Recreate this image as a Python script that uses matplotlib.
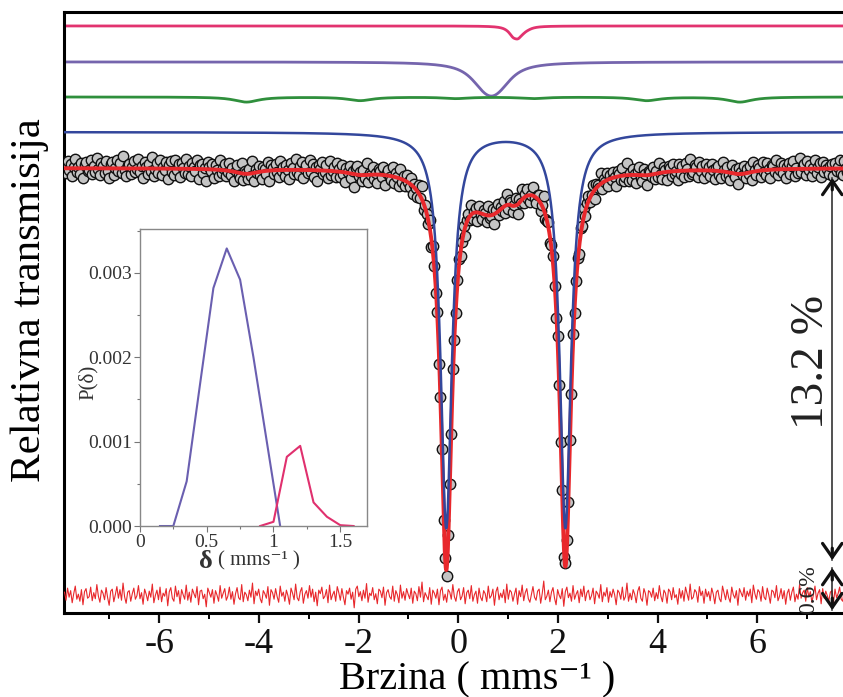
import numpy as np
import matplotlib
matplotlib.use('Agg')
import matplotlib.pyplot as plt
from matplotlib.ticker import MultipleLocator, FuncFormatter

# ------------------------------------------------------------------ data
# velocity channel grid of the spectrometer
v_min, v_max, n_channels = -7.9, 7.9, 512

baseline = 1.0

# quadrupole doublet (blue): line positions, depths, half width
blue_pos = [-0.24, 2.15]
blue_depth = [0.133, 0.133]
blue_hwhm = 0.135

# magnetic sextet (green): line positions, depths, half width
green_pos = [-4.25, -1.97, -0.05, 1.50, 3.78, 5.65]
green_depth = [0.0017, 0.0012, 0.0005, 0.0005, 0.0012, 0.0017]
green_hwhm = 0.30

# isomer-shift distributions (inset)
purple_delta = [0.15, 0.25, 0.35, 0.45, 0.55, 0.65, 0.75, 0.85, 0.95, 1.05]
purple_p = [0.0, 0.0, 0.00053, 0.00168, 0.00282, 0.00329, 0.00292, 0.00200, 0.00100, 0.0]
pink_delta = [0.90, 1.00, 1.10, 1.20, 1.30, 1.40, 1.50, 1.60]
pink_p = [0.0, 0.00005, 0.00082, 0.00095, 0.00028, 0.00011, 0.00001, 0.0]
purple_depth, purple_hwhm = 0.0115, 0.30
pink_depth, pink_hwhm = 0.0044, 0.10

# residual (data - fit) per channel, in units of 0.017 % transmission
residual_units = [
    6, -10, 14, -4, 9, -15, 3, 18, -8, 2, -12, 11, -19, 7, 13, -6,
    -3, 16, -11, 5, -7, 21, -2, -14, 10, 4, -9, 15, -5, -20, 8, 12,
    -13, 1, 17, -6, 11, -10, 24, -3, -16, 6, 9, -12, 3, 14, -8, -1,
    19, -7, 5, -18, 12, 2, -11, 8, -4, 22, -15, 0, 10, -9, 16, -13,
    4, -2, 13, -21, 7, 15, -6, -12, 18, -3, 9, -17, 11, 1, -8, 20,
    -10, 6, -14, 12, 3, -5, 17, -19, 8, 10, -7, 2, -23, 14, 5, -4,
    11, -16, 9, 0, -12, 19, -6, 4, 13, -10, -2, 16, -8, 7, -18, 3,
    15, -5, -9, 21, -13, 6, 1, -11, 10, -4, 24, -17, 8, -1, 12, -7,
    -15, 9, 3, -6, 17, -20, 11, 5, -8, 13, -3, -14, 18, -2, 6, -12,
    10, -1, -18, 14, 4, -9, 22, -5, -11, 7, 15, -16, 2, 9, -6, 19,
    -4, 12, -13, 6, -21, 10, 3, 16, -7, -2, 11, -15, 20, -9, 1, 8,
    -12, 17, 5, -10, 13, -4, -19, 9, 2, 14, -8, 6, -25, 12, 18, -3,
    7, -11, 10, -6, 23, -14, 4, -1, 15, -9, 3, -17, 12, 8, -5, 16,
    -20, 5, 11, -3, -8, 18, -12, 9, 1, -15, 20, -6, 7, -10, 13, 2,
    -7, 14, -16, 8, 3, -11, 17, -4, 26, -13, 5, -2, -9, 15, -18, 10,
    4, -6, 12, -19, 9, 16, -10, 2, -14, 11, 6, -8, 21, -3, -12, 7,
    13, -9, -2, 15, -17, 5, 10, -7, 19, -12, 1, 8, -16, 14, -4, -11,
    9, 3, -13, 18, -6, -1, 12, -20, 7, 16, -9, 4, -5, 11, -15, 22,
    -8, 10, 6, -12, 2, 14, -18, 9, -3, 20, -11, 5, 13, -7, -14, 1,
    17, -4, -10, 8, 12, -16, 3, 28, -9, -2, 10, -13, 6, 15, -6, -19,
    11, 0, -7, 13, -22, 7, 16, -5, 4, -12, 19, -8, 2, 9, -15, 12,
    -3, 18, -11, 5, 10, -9, -1, 14, -17, 8, 3, -6, 21, -13, 6, -2,
    15, -14, 7, -4, 12, 1, -19, 10, 5, -8, 16, -10, -3, 24, -12, 4,
    -9, 11, 2, -15, 8, 17, -6, -12, 13, 3, -20, 9, 6, -4, 14, -11,
    5, -7, 19, -2, -13, 10, 4, -16, 12, 7, -9, 15, -5, 1, -18, 13,
    -6, 9, -12, 16, 3, -10, 22, -8, -4, 11, 6, -14, 17, -1, 8, -16,
    12, -3, 7, -11, 14, 2, -17, 6, 10, -7, -13, 18, 4, -9, 11, -5,
    -14, 16, 1, -6, 9, -20, 13, 5, -3, 15, -10, 8, -2, 12, -15, 20,
    3, -8, 11, 6, -12, 17, -4, -9, 14, 1, -16, 10, 7, -5, 19, -11,
    -2, 13, -7, 9, -18, 4, 12, -10, 6, 16, -13, 2, -8, 21, -6, 5,
    10, -12, 15, -3, 7, -14, 1, 18, -9, 4, 11, -17, 13, -6, 8, -1,
    -11, 6, 9, -15, 12, -5, 3, 16, -8, -12, 14, 2, -7, 10, -13, 5,
]
residual_unit = 0.00017

x_ticks = [-6, -4, -2, 0, 2, 4, 6]
inset_xticks = [0, 0.5, 1.0, 1.5]
inset_yticks = [0, 0.001, 0.002, 0.003]
label_13 = "13.2 %"
label_06 = "0.6%"

# vertical offsets of the displayed sub-spectra
off_pink, off_purple, off_green, off_blue = 1.0478, 1.0357, 1.0239, 1.0121
off_res = 0.8562

# ------------------------------------------------------------------ model
def lor(v, c, g):
    return g ** 2 / ((v - c) ** 2 + g ** 2)

def comp_lines(v, pos, depth, g):
    return sum(d * lor(v, c, g) for c, d in zip(pos, depth))

vf = np.linspace(v_min, v_max, 3000)
vc = np.linspace(v_min, v_max, n_channels)

def comp_dist(v, deltas, ps, g, depth):
    s = sum(p * lor(v, d, g) for d, p in zip(deltas, ps))
    sref = sum(p * lor(vf, d, g) for d, p in zip(deltas, ps))
    return depth * s / sref.max()

def parts(v):
    b = comp_lines(v, blue_pos, blue_depth, blue_hwhm)
    gr = comp_lines(v, green_pos, green_depth, green_hwhm)
    pu = comp_dist(v, purple_delta, purple_p, purple_hwhm, purple_depth)
    pk = comp_dist(v, pink_delta, pink_p, pink_hwhm, pink_depth)
    return b, gr, pu, pk

b_f, g_f, pu_f, pk_f = parts(vf)
fit_f = baseline - (b_f + g_f + pu_f + pk_f)
b_c, g_c, pu_c, pk_c = parts(vc)
fit_c = baseline - (b_c + g_c + pu_c + pk_c)
res = np.array(residual_units) * residual_unit
data = fit_c + res

# ------------------------------------------------------------------ style
SERIF = ['Liberation Serif', 'DejaVu Serif']
plt.rcParams['font.family'] = SERIF
plt.rcParams['axes.unicode_minus'] = False

c_pink = '#e2336f'
c_purple = '#7565ad'
c_green = '#2f8f3c'
c_blue = '#33479c'
c_red = '#e8282c'

fig = plt.figure(figsize=(8.43, 6.97), dpi=100)
ax = fig.add_axes([0.0759, 0.1205, 0.93, 0.8623])

ax.plot(vf, off_pink - pk_f, color=c_pink, lw=2.0)
ax.plot(vf, off_purple - pu_f, color=c_purple, lw=2.0)
ax.plot(vf, off_green - g_f, color=c_green, lw=2.0)

ax.plot(vc, data, 'o', ms=7.5, mfc='#c4c4c4', mec='#111111', mew=1.0, zorder=3)
ax.plot(vf, fit_f, color=c_red, lw=2.8, zorder=4)
ax.plot(vf, off_blue - b_f, color=c_blue, lw=1.8, zorder=5)

ax.plot(vc, off_res + res, color=c_red, lw=0.8, zorder=3)

ax.set_xlim(-7.91, 7.82)
ax.set_ylim(0.8502, 1.0525)

ax.set_xticks(x_ticks)
ax.xaxis.set_minor_locator(MultipleLocator(1))
ax.set_yticks([])
ax.tick_params(axis='x', which='major', direction='out', length=7, width=1.6,
               labelsize=26, pad=4, colors='#111111')
ax.tick_params(axis='x', which='minor', direction='out', length=4, width=1.4)
for s in ['left', 'top', 'bottom']:
    ax.spines[s].set_linewidth(2.2)
ax.spines['right'].set_visible(False)

fig.text(0.0356, 0.5696, 'Relativna transmisija', rotation=90, ha='center', va='center',
         fontsize=31)
fig.text(0.566, 0.0115, 'Brzina ( mms\u207b\u00b9 )', ha='center', va='baseline',
         fontsize=29, family=SERIF)

# percentage arrows
xa = 7.505
y13_top, y13_bot = 0.99663, 0.86801
y06_top, y06_bot = 0.86532, 0.85118
ax.plot([xa, xa], [y13_top, y13_bot], color='#222222', lw=1.1, zorder=6)
ax.plot([xa, xa], [y06_top, y06_bot], color='#222222', lw=1.1, zorder=6)
head = dict(arrowstyle='->,head_length=0.5,head_width=0.35', lw=2.3, color='#111111',
            mutation_scale=20, shrinkA=0, shrinkB=0)
for ytip, ydir in [(y13_top, -1), (y13_bot, 1), (y06_top, -1), (y06_bot, 1)]:
    ax.annotate('', xy=(xa, ytip), xytext=(xa, ytip + ydir * 0.004), arrowprops=head, zorder=7)
ax.text(7.10, 0.9347, label_13, rotation=90, ha='center', va='center', fontsize=34, color='#222222')
ax.text(7.04, 0.8582, label_06, rotation=90, ha='center', va='center', fontsize=17, color='#222222')

# ------------------------------------------------------------------ inset
axi = fig.add_axes([0.166, 0.2453, 0.2693, 0.4261])
axi.plot(purple_delta, purple_p, color='#6a5fb0', lw=1.5)
axi.plot(pink_delta, pink_p, color='#e0306e', lw=1.5)
axi.set_xlim(0, 1.70)
axi.set_ylim(0, 0.00352)
axi.set_xticks(inset_xticks)
axi.xaxis.set_major_formatter(FuncFormatter(lambda x, p: '%g' % x))
axi.set_yticks(inset_yticks)
axi.yaxis.set_major_formatter(FuncFormatter(lambda y, p: '%.3f' % y))
axi.yaxis.set_minor_locator(MultipleLocator(0.0005))
axi.xaxis.set_minor_locator(MultipleLocator(0.25))
axi.tick_params(which='both', direction='out', colors='#777777', labelcolor='#333333',
                labelsize=14, width=0.8, pad=1.5)
axi.tick_params(which='major', length=4)
axi.tick_params(which='minor', length=2)
for s in axi.spines.values():
    s.set_color('#888888')
    s.set_linewidth(1.0)
fig.text(88 / 843, 1 - 382 / 697, 'P(δ)', rotation=90, ha='center', va='center',
         fontsize=15, color='#333333')
fig.text(213 / 843, 1 - 561 / 697, 'δ', ha='right', va='center', fontsize=19,
         fontweight='bold', color='#333333')
fig.text(218 / 843, 1 - 561 / 697, '( mms\u207b\u00b9 )', ha='left', va='center',
         fontsize=15, color='#333333', family=SERIF)

fig.savefig('out.png', dpi=100)
